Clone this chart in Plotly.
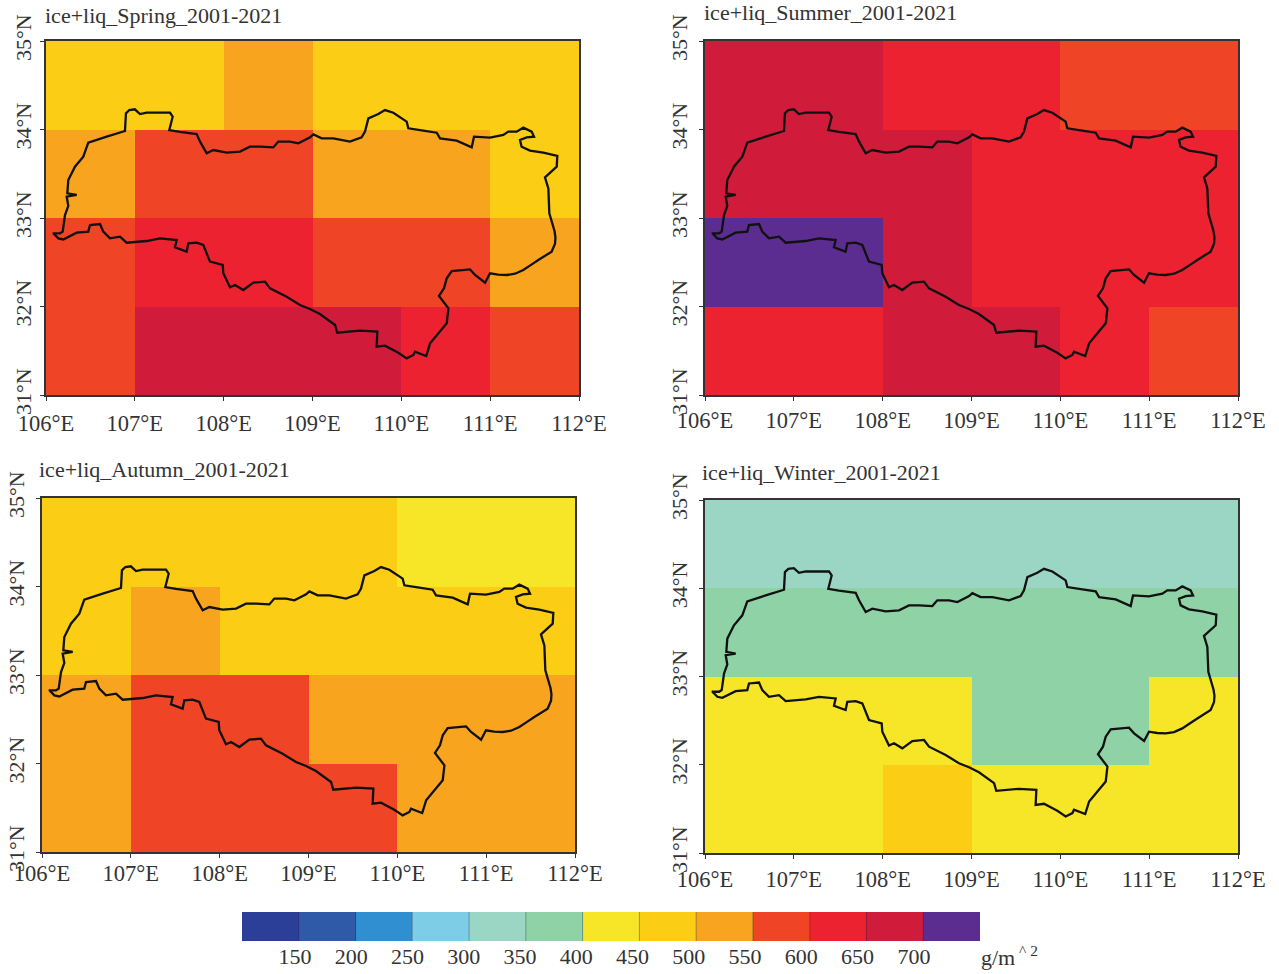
import plotly.graph_objects as go

W, H = 1279, 974

lon_edges = [106, 107, 108, 109, 110, 111, 112]
lat_edges = [31, 32, 33, 34, 35]

# Cloud water path (g/m^2), class mid values, rows listed from south (31-32N) to north (34-35N)
spring = [
    [575, 675, 675, 675, 625, 575],
    [575, 625, 625, 575, 575, 525],
    [525, 575, 575, 525, 525, 475],
    [475, 475, 525, 475, 475, 475],
]
summer = [
    [625, 625, 675, 675, 625, 575],
    [725, 725, 675, 625, 625, 625],
    [675, 675, 675, 625, 625, 625],
    [675, 675, 625, 625, 575, 575],
]
autumn = [
    [525, 575, 575, 575, 525, 525],
    [525, 575, 575, 525, 525, 525],
    [475, 525, 475, 475, 475, 475],
    [475, 475, 475, 475, 425, 425],
]
winter = [
    [425, 425, 475, 425, 425, 425],
    [425, 425, 425, 375, 375, 425],
    [375, 375, 375, 375, 375, 375],
    [325, 325, 325, 325, 325, 325],
]

panel_titles = [
    "ice+liq_Spring_2001-2021",
    "ice+liq_Summer_2001-2021",
    "ice+liq_Autumn_2001-2021",
    "ice+liq_Winter_2001-2021",
]

# Basin outline, lon / lat
outline_lon = [
    106.075, 106.158, 106.188, 106.214, 106.251, 106.233, 106.345, 106.24, 106.251, 106.326, 106.42, 106.476,
    106.683, 106.889, 106.90, 106.938, 107.0, 107.058, 107.133, 107.246, 107.396, 107.426, 107.388, 107.508,
    107.696, 107.734, 107.809, 107.884, 108.034, 108.184, 108.296, 108.409, 108.559, 108.615, 108.747, 108.841,
    108.973, 109.01, 109.103, 109.235, 109.422, 109.553, 109.591, 109.629, 109.741, 109.816, 109.91, 110.06,
    110.079, 110.248, 110.398, 110.436, 110.623, 110.792, 110.818, 110.998, 111.148, 111.204, 111.298, 111.373,
    111.467, 111.494, 111.411, 111.336, 111.354, 111.448, 111.598, 111.756, 111.749, 111.617, 111.655, 111.666,
    111.70, 111.725, 111.735, 111.73, 111.692, 111.62, 111.542, 111.46, 111.373, 111.28, 111.186, 111.09,
    110.998, 110.943, 110.83, 110.773, 110.567, 110.511,
    110.48, 110.424, 110.53, 110.511, 110.4, 110.324, 110.28, 110.154, 110.136, 110.06, 109.966, 109.816,
    109.722, 109.73, 109.535, 109.279, 109.254, 109.084, 108.972, 108.859, 108.709, 108.522, 108.465, 108.334,
    108.221, 108.128, 108.071, 107.996, 107.989, 107.846, 107.771, 107.696, 107.602, 107.583, 107.452, 107.471,
    107.283, 107.133, 106.908, 106.833, 106.72, 106.645, 106.608, 106.495, 106.476, 106.345, 106.195, 106.139,
    106.083, 106.075,
]
outline_lat = [
    32.827, 32.827, 32.846, 33.034, 33.136, 33.241, 33.26, 33.279, 33.429, 33.58, 33.693, 33.851,
    33.919, 33.983, 34.183, 34.22, 34.228, 34.175, 34.19, 34.19, 34.19, 34.145, 33.994, 33.972,
    33.949, 33.863, 33.731, 33.768, 33.738, 33.75, 33.806, 33.806, 33.798, 33.863, 33.863, 33.844,
    33.911, 33.945, 33.9, 33.9, 33.863, 33.911, 33.976, 34.126, 34.175, 34.22, 34.19, 34.089,
    34.013, 33.987, 33.964, 33.9, 33.874, 33.798, 33.919, 33.908, 33.938, 33.976, 33.976, 34.021,
    33.976, 33.919, 33.911, 33.881, 33.806, 33.761, 33.738, 33.701, 33.58, 33.46, 33.335, 33.053,
    32.93, 32.85, 32.78, 32.71, 32.62, 32.57, 32.525, 32.47, 32.412, 32.37, 32.356, 32.36,
    32.375, 32.269, 32.356, 32.42, 32.401, 32.318,
    32.205, 32.119, 31.979, 31.811, 31.678, 31.584, 31.441, 31.49, 31.452, 31.414, 31.478, 31.558,
    31.546, 31.716, 31.727, 31.704, 31.791, 31.915, 31.972, 32.017, 32.111, 32.205, 32.281, 32.269,
    32.186, 32.243, 32.217, 32.375, 32.469, 32.507, 32.695, 32.721, 32.714, 32.62, 32.669, 32.751,
    32.77, 32.74, 32.721, 32.789, 32.77, 32.846, 32.932, 32.921, 32.846, 32.834, 32.758, 32.77,
    32.827, 32.827,
]

band_colors = ["#2b3f98", "#2f5aa8", "#2f8fd0", "#7ecde6", "#9bd5c4", "#8fd2a6", "#f6e627",
               "#fbcd14", "#f9a41f", "#ef4425", "#ec2230", "#d01c3a", "#5b2d91"]
band_edges = [100, 150, 200, 250, 300, 350, 400, 450, 500, 550, 600, 650, 700, 750]
band_mids = [125, 175, 225, 275, 325, 375, 425, 475, 525, 575, 625, 675, 725]
bar_label_pos = [146.7, 196.3, 245.8, 295.4, 344.9, 394.5, 444, 493.5, 543.1, 592.6, 642.2, 691.8]
bar_labels = ["150", "200", "250", "300", "350", "400", "450", "500", "550", "600", "650", "700"]
lon_ticks = [106, 107, 108, 109, 110, 111, 112]
lat_ticks = [31, 32, 33, 34, 35]

# Plot boxes in page pixels: left, right, top, bottom
boxes = [(46, 579, 41, 395), (705, 1238, 41, 395), (42, 575, 498, 852), (705, 1238, 500, 853)]
title_pos = [(44, 15), (703, 13), (38, 469), (701, 473)]
x_standoff = [3, 0, -4, 1]
y_standoff = [0, 3, 3, 3]
bar_box = (242, 980, 912, 941)

FONT = "Liberation Serif"
TXT = "#333333"

zlo, zhi = band_edges[0], band_edges[-1]
scale = []
for i, c in enumerate(band_colors):
    scale.append([(band_edges[i] - zlo) / (zhi - zlo), c])
    scale.append([(band_edges[i + 1] - zlo) / (zhi - zlo), c])

fig = go.Figure()
layout_axes = {}
for k, (grid, box) in enumerate(zip([spring, summer, autumn, winter], boxes)):
    n = "" if k == 0 else str(k + 1)
    fig.add_trace(go.Heatmap(x=lon_edges, y=lat_edges, z=grid, colorscale=scale, zmin=zlo, zmax=zhi,
                             showscale=False, xaxis="x" + n, yaxis="y" + n))
    fig.add_trace(go.Scatter(x=outline_lon, y=outline_lat, mode="lines", showlegend=False,
                             line=dict(color="#111111", width=2.3), xaxis="x" + n, yaxis="y" + n))
    l, r, t, b = box
    common = dict(ticks="outside", ticklen=4, tickwidth=1.2, tickcolor="#333333", showline=True,
                  linecolor="#333333", linewidth=1.5, mirror=True, showgrid=False, zeroline=False,
                  automargin=False)
    layout_axes["xaxis" + n] = dict(domain=[l / W, r / W], range=[106, 112], tickvals=lon_ticks,
                                    ticktext=[f"{v}°E" for v in lon_ticks], tickangle=0, anchor="y" + n,
                                    ticklabelstandoff=x_standoff[k],
                                    tickfont=dict(family=FONT, size=22.5, color=TXT), **common)
    layout_axes["yaxis" + n] = dict(domain=[1 - b / H, 1 - t / H], range=[31, 35], tickvals=lat_ticks,
                                    ticktext=[f"{v}°N" for v in lat_ticks], tickangle=-90, anchor="x" + n,
                                    ticklabelstandoff=y_standoff[k],
                                    tickfont=dict(family=FONT, size=22, color=TXT), **common)

# Colour key: its own small axes, so it does not push the page margins
fig.add_trace(go.Heatmap(x=band_edges, y=[0, 1], z=[band_mids], colorscale=scale, zmin=zlo, zmax=zhi,
                         showscale=False, xaxis="x5", yaxis="y5"))
sep_x, sep_y = [], []
for e in band_edges[1:-1]:
    sep_x += [e, e, None]
    sep_y += [0, 1, None]
fig.add_trace(go.Scatter(x=sep_x, y=sep_y, mode="lines", showlegend=False,
                         line=dict(color="rgba(30,30,60,0.35)", width=1), xaxis="x5", yaxis="y5"))
l, r, t, b = bar_box
layout_axes["xaxis5"] = dict(domain=[l / W, r / W], range=[zlo, zhi], tickvals=bar_label_pos, ticktext=bar_labels,
                             ticks="", showline=False, showgrid=False, zeroline=False, automargin=False,
                             anchor="y5", tickangle=0, tickfont=dict(family=FONT, size=22, color=TXT))
layout_axes["yaxis5"] = dict(domain=[1 - b / H, 1 - t / H], range=[0, 1], showticklabels=False, ticks="",
                             showline=False, showgrid=False, zeroline=False, automargin=False, anchor="x5")

annotations = [
    dict(text=s, x=p[0] / W, y=1 - p[1] / H, xref="paper", yref="paper", xanchor="left", yanchor="middle",
         showarrow=False, font=dict(family=FONT, size=22, color=TXT), xshift=-1)
    for s, p in zip(panel_titles, title_pos)
]
annotations.append(dict(text="g/m<sup> ^ 2</sup>", x=979 / W, y=1 - 956 / H, xref="paper", yref="paper",
                        xanchor="left", yanchor="middle", showarrow=False,
                        font=dict(family=FONT, size=22, color=TXT)))

fig.update_layout(
    width=W, height=H, margin=dict(l=0, r=0, t=0, b=0, autoexpand=False), paper_bgcolor="white",
    plot_bgcolor="white", showlegend=False, annotations=annotations, **layout_axes,
)

fig.write_html("out.html", config={"displayModeBar": False}, post_script="document.body.style.margin='0';")
